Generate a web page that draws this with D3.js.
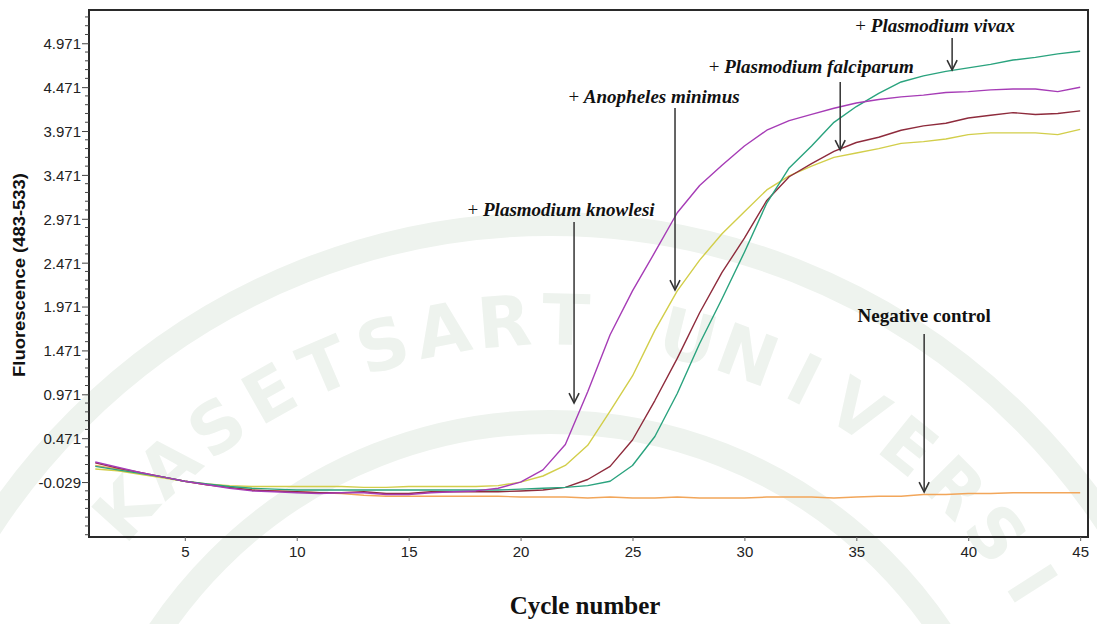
<!DOCTYPE html>
<html>
<head>
<meta charset="utf-8">
<script src="https://cdn.jsdelivr.net/npm/d3@7"></script>
<style>
  html, body { margin: 0; padding: 0; background: #fff; }
  #chart { width: 1097px; height: 624px; }
  .tick-lab { font-family: "Liberation Sans", Arial, sans-serif; font-size: 15px; fill: #222; }
  .ann { font-family: "Liberation Serif", "Times New Roman", serif; font-size: 19px; fill: #111; }
</style>
</head>
<body>
<div id="chart"></div>
<script>
(function () {
  "use strict";

  // cycles 1..45
  var cycles = d3.range(1, 46);

  var knowlesi = [0.20, 0.14, 0.08, 0.03, -0.02, -0.06, -0.10, -0.13, -0.14, -0.15,
    -0.16, -0.15, -0.15, -0.17, -0.17, -0.15, -0.14, -0.13, -0.10, -0.03,
    0.11, 0.40, 1.00, 1.65, 2.15, 2.59, 3.04, 3.35, 3.58, 3.80,
    3.98, 4.09, 4.16, 4.23, 4.29, 4.33, 4.36, 4.38, 4.41, 4.42,
    4.44, 4.45, 4.45, 4.42, 4.47];
  var anopheles = [0.12, 0.10, 0.06, 0.02, -0.02, -0.05, -0.07, -0.08, -0.08, -0.08,
    -0.08, -0.08, -0.09, -0.09, -0.08, -0.08, -0.08, -0.08, -0.07, -0.03,
    0.04, 0.16, 0.39, 0.78, 1.18, 1.70, 2.15, 2.50, 2.80, 3.05,
    3.30, 3.46, 3.57, 3.67, 3.72, 3.77, 3.83, 3.85, 3.88, 3.93,
    3.95, 3.95, 3.95, 3.93, 3.99];
  var falciparum = [0.19, 0.13, 0.08, 0.03, -0.02, -0.06, -0.09, -0.12, -0.13, -0.14,
    -0.15, -0.15, -0.14, -0.16, -0.16, -0.14, -0.14, -0.14, -0.14, -0.13,
    -0.12, -0.09, 0.00, 0.15, 0.45, 0.90, 1.38, 1.90, 2.36, 2.75,
    3.18, 3.45, 3.60, 3.74, 3.84, 3.90, 3.98, 4.03, 4.06, 4.12,
    4.15, 4.18, 4.16, 4.17, 4.20];
  var vivax = [0.15, 0.11, 0.07, 0.03, -0.02, -0.05, -0.08, -0.10, -0.11, -0.12,
    -0.12, -0.12, -0.12, -0.12, -0.12, -0.12, -0.12, -0.12, -0.12, -0.11,
    -0.10, -0.09, -0.07, -0.02, 0.16, 0.49, 0.98, 1.55, 2.06, 2.59,
    3.15, 3.55, 3.80, 4.07, 4.25, 4.40, 4.53, 4.60, 4.65, 4.69,
    4.73, 4.78, 4.81, 4.85, 4.88];
  var negative = [0.16, 0.12, 0.07, 0.03, -0.02, -0.06, -0.09, -0.12, -0.13, -0.14,
    -0.15, -0.16, -0.18, -0.19, -0.19, -0.19, -0.19, -0.19, -0.19, -0.20,
    -0.20, -0.20, -0.21, -0.20, -0.21, -0.21, -0.20, -0.21, -0.21, -0.21,
    -0.20, -0.20, -0.20, -0.21, -0.20, -0.19, -0.19, -0.17, -0.17, -0.16,
    -0.16, -0.15, -0.15, -0.15, -0.15];

  var yTicks = [-0.029, 0.471, 0.971, 1.471, 1.971, 2.471, 2.971, 3.471, 3.971, 4.471, 4.971];
  var xTicks = [5, 10, 15, 20, 25, 30, 35, 40, 45];

  var series = [
    { name: "Negative control", values: negative, color: "#f2a65a" },
    { name: "Anopheles minimus", values: anopheles, color: "#d2ce4a" },
    { name: "Plasmodium falciparum", values: falciparum, color: "#8e2b3c" },
    { name: "Plasmodium vivax", values: vivax, color: "#2aa37e" },
    { name: "Plasmodium knowlesi", values: knowlesi, color: "#a63cb6" }
  ];

  // arrows: cycle, top value, tip value; label offset from arrow top (px)
  var notes = [
    { text: "Plasmodium vivax", plus: true, cycle: 39.28, top: 5.03, tip: 4.666, dx: -17, dy: -6 },
    { text: "Plasmodium falciparum", plus: true, cycle: 34.28, top: 4.529, tip: 3.754, dx: -29, dy: -9 },
    { text: "Anopheles minimus", plus: true, cycle: 26.9, top: 4.233, tip: 2.159, dx: -21, dy: -5 },
    { text: "Plasmodium knowlesi", plus: true, cycle: 22.39, top: 2.934, tip: 0.871, dx: -13, dy: -6 },
    { text: "Negative control", plus: false, cycle: 38.03, top: 1.657, tip: -0.143, dx: 0, dy: -12 }
  ];

  var W = 1097, H = 624;
  var m = { top: 10, right: 9, bottom: 87, left: 89 };
  var iw = W - m.left - m.right, ih = H - m.top - m.bottom;

  var svg = d3.select("#chart").append("svg")
    .attr("width", W).attr("height", H)
    .attr("viewBox", "0 0 " + W + " " + H);

  // faint university seal watermark, one letter at a time along an arc
  var sealC = [550, 892], sealR = 572;
  var wm = svg.append("g");
  wm.selectAll("circle").data([668, 470]).join("circle")
    .attr("cx", sealC[0]).attr("cy", sealC[1]).attr("r", function (d) { return d; })
    .attr("fill", "none").attr("stroke", "#eef3ee").attr("stroke-width", 24);
  var letters = "KASETSART UNIVERSI".split("").map(function (ch, i) {
    var a = -48 + i * 6.2, rad = a * Math.PI / 180;
    return { ch: ch, a: a, px: sealC[0] + sealR * Math.sin(rad), py: sealC[1] - sealR * Math.cos(rad) };
  });
  wm.selectAll("text").data(letters).join("text")
    .attr("transform", function (d) { return "translate(" + d.px + "," + d.py + ") rotate(" + d.a + ")"; })
    .attr("text-anchor", "middle").attr("dy", "0.35em")
    .attr("font-family", "DejaVu Sans, sans-serif").attr("font-weight", "bold")
    .attr("font-size", 70).attr("fill", "#eef3ee")
    .text(function (d) { return d.ch; });

  var g = svg.append("g").attr("transform", "translate(" + m.left + "," + m.top + ")");

  var x = d3.scaleLinear().domain([0.72, 45.35]).range([0, iw]);
  var y = d3.scaleLinear().domain([-0.655, 5.35]).range([ih, 0]);

  // frame
  g.append("rect").attr("width", iw).attr("height", ih)
    .attr("fill", "none").attr("stroke", "#2a2a2a").attr("stroke-width", 2);

  // y axis: majors with labels, minor every 0.1
  var minor = d3.range(-0.629, 5.3, 0.1).filter(function (v) {
    return !yTicks.some(function (t) { return Math.abs(t - v) < 0.01; });
  });
  g.append("g").selectAll("line").data(minor).join("line")
    .attr("x1", -4).attr("x2", 0)
    .attr("y1", function (d) { return y(d); }).attr("y2", function (d) { return y(d); })
    .attr("stroke", "#444").attr("stroke-width", 1);
  var yAxis = g.append("g")
    .call(d3.axisLeft(y).tickValues(yTicks)
      .tickFormat(function (d) { return d.toFixed(3); })
      .tickSize(7).tickSizeOuter(0));
  yAxis.select(".domain").remove();
  yAxis.selectAll("line").attr("stroke", "#444");
  yAxis.selectAll("text").attr("class", "tick-lab").attr("x", -8).attr("dy", "0.36em");

  var xAxis = g.append("g").attr("transform", "translate(0," + ih + ")")
    .call(d3.axisBottom(x).tickValues(xTicks).tickFormat(d3.format("d")).tickSize(4).tickSizeOuter(0));
  xAxis.select(".domain").remove();
  xAxis.selectAll("line").attr("stroke", "#666");
  xAxis.selectAll("text").attr("class", "tick-lab").attr("y", 9);

  // curves
  var line = d3.line()
    .x(function (d, i) { return x(cycles[i]); })
    .y(function (d) { return y(d); });
  g.append("g").selectAll("path").data(series).join("path")
    .attr("d", function (s) { return line(s.values); })
    .attr("fill", "none")
    .attr("stroke", function (s) { return s.color; })
    .attr("stroke-width", 1.4)
    .attr("stroke-linejoin", "round");

  // annotations
  var ann = g.append("g").selectAll("g").data(notes).join("g");
  ann.append("line")
    .attr("x1", function (d) { return x(d.cycle); }).attr("x2", function (d) { return x(d.cycle); })
    .attr("y1", function (d) { return y(d.top); }).attr("y2", function (d) { return y(d.tip); })
    .attr("stroke", "#333").attr("stroke-width", 1.5);
  ann.append("path")
    .attr("d", function (d) {
      var px = x(d.cycle), py = y(d.tip);
      return "M" + (px - 5) + "," + (py - 10) + "L" + px + "," + py + "L" + (px + 5) + "," + (py - 10);
    })
    .attr("fill", "none").attr("stroke", "#333").attr("stroke-width", 1.6);
  var lab = ann.append("text").attr("class", "ann")
    .attr("text-anchor", "middle").attr("font-weight", "bold")
    .attr("x", function (d) { return x(d.cycle) + d.dx; })
    .attr("y", function (d) { return y(d.top) + d.dy; });
  lab.filter(function (d) { return d.plus; }).append("tspan").attr("font-weight", "normal").text("+ ");
  lab.append("tspan")
    .attr("font-style", function (d) { return d.plus ? "italic" : "normal"; })
    .text(function (d) { return d.text; });

  // axis titles
  svg.append("text")
    .attr("transform", "translate(25,275) rotate(-90)")
    .attr("text-anchor", "middle")
    .attr("font-family", "Liberation Sans, Arial, sans-serif")
    .attr("font-weight", "bold").attr("font-size", 16).attr("fill", "#111")
    .attr("textLength", 204).attr("lengthAdjust", "spacingAndGlyphs")
    .text("Fluorescence (483-533)");
  svg.append("text")
    .attr("x", 585).attr("y", 614).attr("text-anchor", "middle")
    .attr("font-family", "Liberation Serif, Times New Roman, serif")
    .attr("font-weight", "bold").attr("font-size", 25).attr("fill", "#111")
    .text("Cycle number");
})();
</script>
</body>
</html>
